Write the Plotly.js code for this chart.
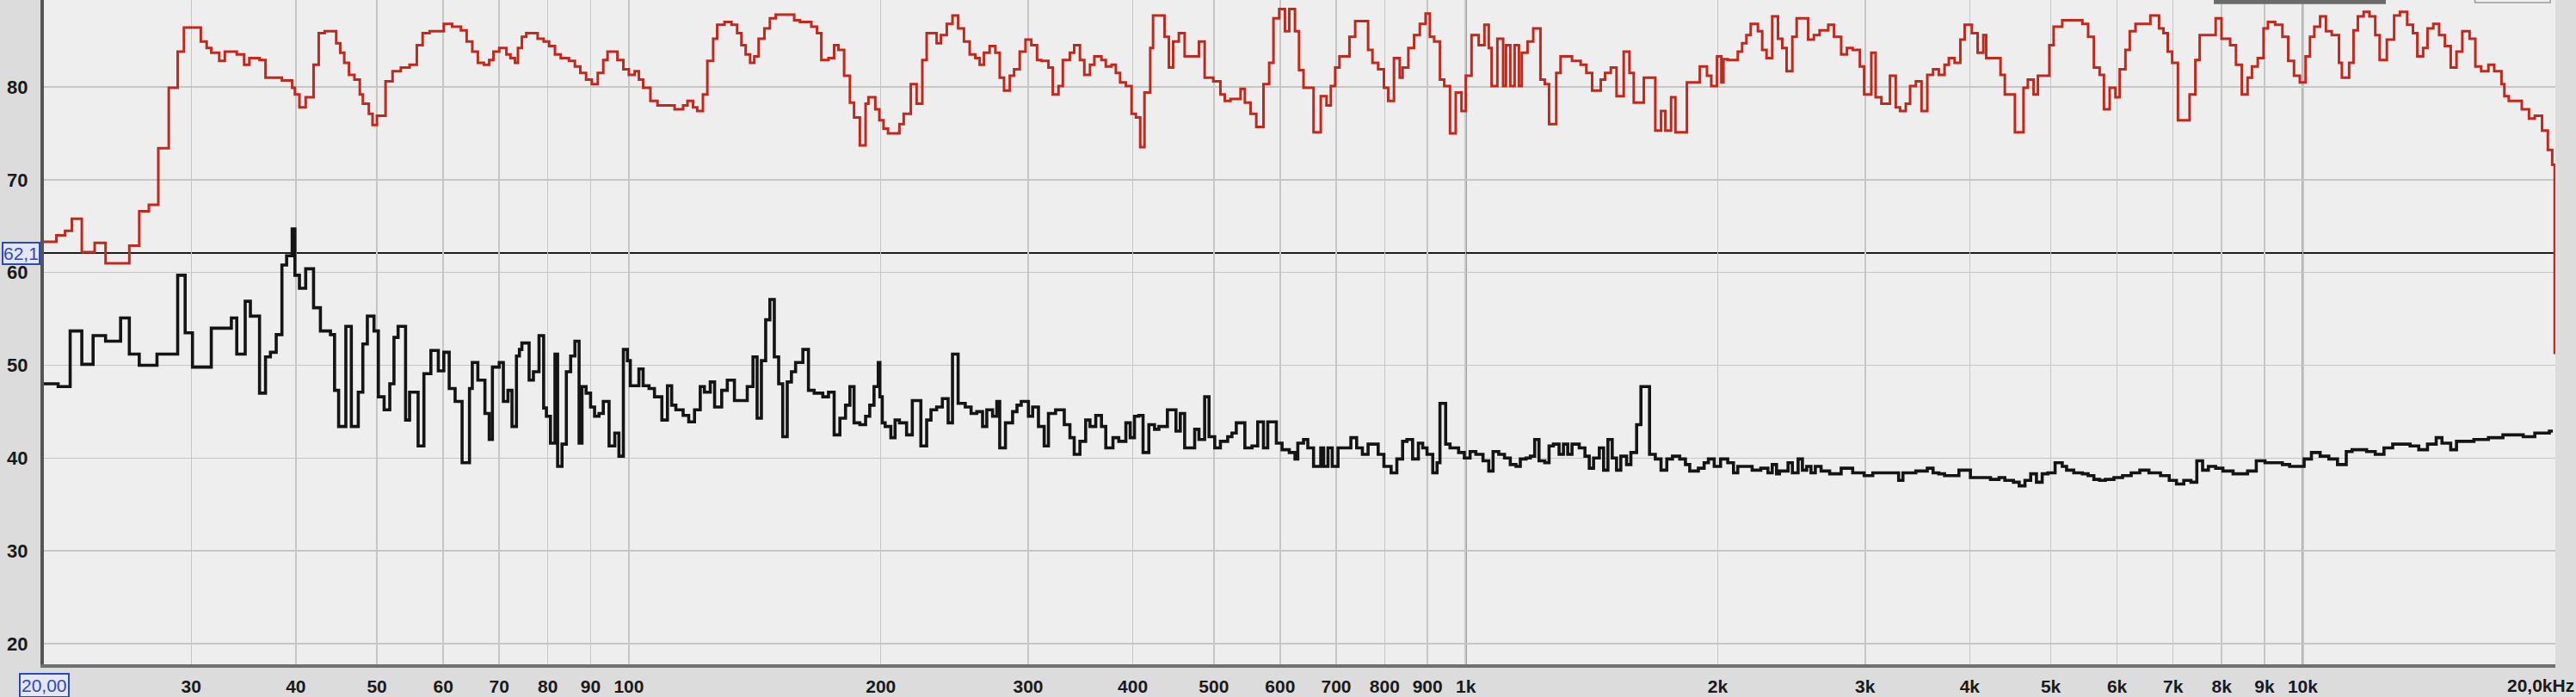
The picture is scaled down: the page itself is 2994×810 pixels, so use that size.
<!DOCTYPE html>
<html>
<head>
<meta charset="utf-8">
<script src="https://cdn.plot.ly/plotly-3.0.1.min.js"></script>
<style>html,body{margin:0;padding:0;background:#dedede;}#chart{width:2994px;height:810px;}</style>
</head>
<body>
<div id="chart"></div>
<script>
// ---- data ----
const redHz = [20,20.7,21.2,21.6,22.2,23.0,23.7,25.3,26.0,26.7,27.4,28.2,28.9,29.4,30.8,31.3,31.7,32.4,32.9,34.0,34.7,35.2,36.2,36.8,38.5,39.6,39.9,40.4,41.1,42.0,42.6,43.3,44.7,45.2,45.7,46.3,47.0,47.7,48.1,48.9,49.4,50.0,51.2,52.2,53.4,54.7,55.8,56.7,57.8,60.1,61.5,
63.0,64.0,65.0,66.0,67.1,68.1,68.9,70.0,71.4,72.2,73.1,73.7,74.5,75.4,77.8,79.1,80.3,81.6,82.9,84.8,86.2,87.5,88.9,90.3,91.8,93.2,94.3,96.9,98.5,100.0,101.6,102.8,104.0,106.1,108.2,113.4,116.1,117.5,119.3,120.7,122.6,124.1,126.1,127.5,130.1,132.6,134.7,136.3,137.9,139.6,141.2,142.9,145.2,147.4,149.8,157.6,160.1,165.2,167.8,169.8,173.2,175.9,178.0,180.8,183.7,185.8,188.8,191.8,193.3,
197.0,199.2,201.5,204.0,210.5,213.0,217.2,220.7,224.2,226.9,233.2,236.0,239.8,243.6,247.4,251.4,255.4,259.4,262.5,265.6,269.8,274.1,277.4,280.7,285.2,288.6,293.1,297.8,302.6,307.4,311.0,317.2,321.0,326.1,330.0,336.5,340.5,345.9,350.1,355.6,359.9,367.0,371.4,377.3,381.8,386.3,392.5,398.7,403.5,408.3,413.1,419.7,423.0,436.6,441.8,447.0,454.1,461.4,479.9,487.5,499.2,509.1,515.2,523.4,538.1,544.5,553.1,561.9,573.1,582.2,589.1,598.5,608.0,615.3,625.0,
632.0,639.9,657.8,671.0,681.7,689.8,698.1,706.4,726.1,737.6,764.3,773.5,785.8,798.3,807.8,820.7,833.8,840.4,853.8,867.4,881.2,895.3,905.9,916.7,931.4,942.4,957.5,972.7,988.2,1000,1015.9,1036.1,1052.6,1065.2,1073.6,1090.7,1108.1,1116.9,1130.2,1143.7,1157.3,1166.5,1185.1,1203.9,1228.0,1242.6,1257.4,1282.5,1297.8,1339.4,1371.6,1393.4,1415.6,1449.5,1466.8,1490.2,1513.9,1544.1,1568.7,1587.4,1631.9,1684.3,1711.1,1731.5,1759.1,1780.1,1837.2,1903.7,1941.7,1964.8,1996.1,
2020,2031.7,2055.8,2113.4,2138.6,2164.1,2189.9,2233.8,2260.4,2287.4,2323.5,2360.4,2388.5,2417.1,2455.6,2485.0,2564.7,2605.6,2647.1,2710.7,2753.8,2808.7,2853.4,2899.0,2956.8,2992.1,3051.6,3088.1,3137.3,3212.5,3263.7,3302.6,3355.1,3395.2,3449.2,3503.7,3559.7,3616.6,3674.0,3732.7,3777.1,3837.3,3898.4,3945.0,4023.8,4087.8,4152.9,4185.9,4354.1,4406.1,4529.9,4638.4,4693.7,4768.5,4825.5,4980.2,5039.4,5160.2,5453.8,5540.9,5629.2,5718.9,5787.1,5879.2,5973.0,6043.7,6139.9,6213.3,6312.3,
6576,6735,6817,6898,6982,7094,7325,7442,7531,7870,7997,8190,8322,8456,8592,8696,8836,8978,9087,9269,9456,9609,9763,9920,10080,10201,10324,10490,10659,10831,11049,11137,11362,11499,11637,11825,12015,12208,12356,12604,12859,13066,13329,13543,13706,13927,14095,14322,14552,14787,15025,15266,15512,15824,16079,16338,16667,16935,17277,17415,17625,18269,18636,18936,19318,19628,19865,20000];
const redDb = [63.3,64.0,64.5,65.8,62.2,63.2,61.0,62.9,66.6,67.3,73.4,79.9,83.8,86.4,84.9,84.2,83.7,82.8,83.8,83.5,82.4,83.1,82.9,81.0,80.7,79.9,79.2,77.8,78.9,82.4,85.8,86.0,84.7,83.7,82.6,81.3,80.8,79.2,78.2,77.1,75.9,76.9,80.6,81.7,82.1,82.4,84.5,85.8,86.0,86.8,86.5,
86.1,84.9,83.8,82.6,82.4,82.9,83.8,84.2,83.5,83.1,82.6,84.2,85.4,85.8,85.2,84.9,84.4,83.5,83.1,82.8,82.2,81.5,80.8,80.3,81.5,82.9,83.8,82.9,81.9,81.3,81.7,80.8,79.9,78.5,78.0,77.6,78.0,78.5,77.8,77.4,79.2,82.8,85.2,86.7,87.0,86.7,85.8,84.5,83.5,82.6,83.3,85.2,86.3,87.4,87.8,87.2,87.0,86.5,85.8,82.9,83.1,84.5,84.0,81.2,78.3,76.7,73.7,78.2,78.9,
77.6,76.4,75.5,75.0,76.0,77.1,80.3,78.2,82.9,85.8,84.7,85.6,86.8,87.7,86.3,84.9,83.5,83.1,82.4,83.7,84.4,83.7,81.0,79.6,81.2,81.9,83.8,85.1,84.5,82.9,82.8,82.1,79.2,80.1,82.9,83.7,84.5,82.9,81.3,82.4,83.3,82.9,82.2,82.4,81.5,80.5,80.1,77.1,76.7,73.5,79.4,84.2,87.7,85.4,82.1,84.9,85.8,83.3,84.9,81.0,80.6,79.2,78.5,78.7,79.8,78.3,77.1,75.7,80.3,82.6,87.4,88.4,86.0,88.4,86.0,
81.8,79.9,75.1,79.0,78.0,80.1,82.1,83.3,85.4,87.1,84.0,82.6,81.9,79.9,78.5,83.1,81.0,82.1,84.2,85.6,86.8,87.9,85.4,84.9,80.8,80.1,75.0,79.4,77.4,81.2,85.6,84.5,86.7,84.2,80.1,85.2,80.1,84.5,80.1,84.5,80.1,83.7,84.9,86.3,80.8,80.3,76.0,81.5,83.3,82.8,82.4,81.5,79.6,80.8,81.5,82.1,79.0,83.8,81.5,78.3,81.0,75.3,77.4,75.3,78.9,75.1,80.5,82.2,81.2,80.1,83.3,
80.5,83.0,82.9,83.8,84.7,85.6,86.8,86.0,84.0,83.1,87.6,85.2,84.2,81.7,85.4,87.4,85.1,85.6,86.1,86.7,85.4,83.5,84.2,84.0,82.2,79.2,83.7,78.9,78.2,81.2,77.8,77.4,78.2,80.1,80.6,77.4,81.3,81.9,81.3,82.4,83.1,82.6,85.1,86.7,85.8,83.7,85.6,83.1,81.3,79.2,75.1,79.9,80.8,79.2,81.2,84.5,86.5,87.2,86.8,85.4,82.1,81.3,77.6,79.9,78.9,81.9,84.0,86.0,86.8,
87.7,86.3,85.8,83.8,82.6,76.4,79.2,82.9,85.6,87.4,85.2,84.5,82.4,79.2,81.0,82.2,83.1,86.3,87.0,86.7,85.4,82.8,81.2,80.5,83.3,85.4,86.5,87.6,86.0,85.6,82.6,81.0,82.6,86.1,87.6,88.1,87.6,85.6,82.9,85.1,87.7,88.1,86.7,85.8,83.3,84.2,86.3,86.8,85.6,84.4,82.1,83.8,86.0,85.2,82.2,81.7,82.4,81.7,80.3,79.0,78.5,77.6,76.6,76.9,75.3,73.2,71.6,51.2];

const blackHz = [20.0,20.8,21.5,22.2,22.9,23.7,24.7,25.3,26.0,27.3,28.9,29.5,30.1,31.7,33.5,34.0,34.8,35.3,36.2,36.8,37.3,37.9,38.5,39.0,39.6,39.9,40.4,41.1,42.0,42.8,44.0,44.5,45.0,45.9,46.6,47.5,48.1,48.7,49.6,50.2,51.0,51.8,52.4,53.0,54.1,54.7,56.0,56.9,58.0,59.2,60.1,61.0,62.0,
63.2,64.5,65.0,66.0,67.3,68.1,68.7,70.0,70.8,71.7,72.5,73.4,74.0,74.5,76.0,76.9,78.1,79.1,79.7,80.6,81.6,82.2,83.2,84.2,85.2,86.2,87.2,87.9,88.9,90.0,91.0,92.1,93.2,94.7,96.2,97.3,98.5,99.6,100.4,102.8,104.0,105.7,107.3,109.5,111.2,112.5,113.8,116.1,117.9,119.8,121.7,123.1,125.1,126.6,129.1,131.1,133.7,138.5,140.7,142.3,144.0,145.7,147.4,149.2,151.0,152.7,154.6,156.4,158.2,161.4,163.9,166.5,170.5,173.2,175.9,178.7,181.5,183.7,185.8,188.8,191.8,194.0,196.3,198.6,
199.5,200.8,202.4,205.6,208.0,210.5,214.7,218.1,223.3,226.9,229.6,233.2,236.9,240.7,243.6,247.4,252.3,256.4,260.4,264.6,267.7,272.0,275.2,277.4,281.8,287.4,290.9,294.3,300.2,303.7,308.6,313.5,317.2,323.5,331.3,336.5,340.5,345.9,351.4,355.6,361.3,367.0,371.4,378.8,384.9,392.5,397.2,401.9,406.7,411.5,418.1,424.7,429.8,440.0,450.5,455.9,461.4,474.3,479.9,487.5,493.4,501.2,509.1,519.4,525.5,531.8,544.5,555.3,564.1,573.1,579.9,593.8,603.2,615.3,625.0,
629.9,639.9,647.5,657.8,671.0,676.3,684.4,692.5,703.6,728.9,740.6,752.4,764.3,785.8,798.3,814.3,827.2,840.4,850.4,863.9,877.7,888.2,898.8,913.1,924.0,931.4,946.1,957.5,980.4,996.0,1011.9,1028.0,1048.5,1065.2,1077.9,1094.9,1112.4,1130.2,1148.1,1161.8,1180.4,1194.4,1208.7,1223.1,1242.6,1257.4,1272.4,1292.6,1308.1,1323.7,1339.4,1366.2,1387.9,1404.5,1421.2,1443.9,1461.0,1478.5,1496.1,1513.9,1531.8,1556.3,1574.8,1599.9,1619.0,1657.8,1684.3,1711.1,1738.4,1766.0,1801.2,1829.9,1851.7,1896.2,1926.5,1949.3,1980.6,
2015.6,2055.8,2088.6,2113.4,2198.5,2251.5,2296.3,2323.5,2351.2,2369.9,2426.8,2455.6,2494.9,2524.6,2554.6,2585.0,2615.9,2657.6,2721.3,2808.7,2899.0,2992.1,3063.9,3289.7,3328.9,3449.2,3559.7,3616.6,3674.0,3732.7,3883.1,4007.9,4235.8,4336.8,4406.1,4512.0,4583.8,4657.0,4731.1,4806.4,4883.0,4960.6,5059.6,5160.2,5221.9,5326.2,5453.8,5540.9,5629.2,5718.9,5809.6,5948.8,6091.7,6237.9,6387.5,
6550,6762,6926,7065,7209,7353,7472,7592,7714,7870,8028,8256,8592,8800,9014,9456,9646,10039,10242,10490,10744,11004,11272,11454,11921,12208,12505,12808,13435,13761,14095,14436,14668,15025,15266,16015,16667,17345,18341,18936,19708,19900];
const blackDb = [48.0,47.7,53.7,50.1,53.2,52.6,55.1,51.2,50.0,51.2,59.7,53.5,49.8,54.0,55.1,51.2,56.9,55.3,47.0,50.9,51.4,53.3,60.8,61.8,64.7,59.7,58.3,60.4,56.2,53.7,53.3,47.3,43.4,54.2,43.4,47.1,52.3,55.3,53.7,46.6,45.2,48.0,53.0,54.2,44.1,47.1,41.3,49.1,51.6,49.4,51.4,47.5,46.1,
39.5,47.5,50.3,48.4,44.8,42.0,49.8,50.3,46.1,47.3,43.4,51.0,51.7,52.4,48.4,49.3,53.2,45.4,44.5,41.6,51.2,39.1,41.5,49.3,51.0,52.6,41.6,47.7,47.0,45.5,44.5,44.8,46.1,41.3,42.7,40.2,51.7,50.5,47.8,49.6,47.8,47.5,46.6,44.1,47.8,45.7,45.2,44.6,43.9,45.2,47.7,47.1,48.2,45.5,47.3,48.4,46.2,47.7,50.9,44.3,50.5,54.9,57.1,50.9,48.0,42.3,48.2,49.3,50.3,51.7,47.3,47.0,46.6,47.1,42.5,44.3,45.7,47.7,43.8,43.6,44.5,45.7,47.7,50.3,
46.6,43.8,43.4,42.2,44.1,43.8,42.5,46.2,41.3,44.1,45.2,45.5,46.4,43.8,51.2,45.9,45.5,44.8,45.0,43.4,45.2,44.5,46.1,41.1,43.8,45.0,45.7,46.1,44.5,45.5,43.4,41.3,44.8,45.2,43.6,42.2,40.4,41.8,44.1,43.4,44.6,43.4,41.1,42.2,41.8,43.8,42.2,44.5,44.6,40.6,43.6,43.1,43.4,45.2,42.9,44.8,41.1,43.1,42.0,46.6,42.3,41.1,41.8,42.3,42.7,43.8,41.1,41.3,43.9,41.1,43.9,41.6,40.9,40.6,39.9,
41.6,42.0,41.1,39.1,41.1,39.1,41.1,39.1,41.1,42.2,41.1,40.4,41.5,40.4,39.1,38.4,39.9,41.8,42.0,39.9,41.6,41.1,40.4,38.4,39.5,45.9,41.5,41.1,40.6,40.0,40.7,40.4,39.7,38.6,40.7,40.4,40.0,39.3,39.1,39.9,40.0,40.2,42.0,39.7,39.5,41.3,41.5,40.4,41.5,40.4,41.5,41.1,40.2,38.9,40.0,41.1,38.7,42.0,40.0,38.7,40.2,39.3,40.6,43.6,47.7,40.4,39.9,38.7,39.9,40.2,39.9,39.3,38.6,38.9,39.5,39.9,39.1,
39.9,39.5,38.4,39.1,38.7,38.9,38.4,39.3,38.3,38.6,39.5,38.4,39.9,38.7,39.1,38.4,39.1,38.6,38.3,38.9,38.4,38.1,38.4,37.6,38.4,38.6,38.9,38.4,38.3,38.1,38.7,37.9,37.7,37.9,37.6,37.4,37.0,37.6,38.3,37.4,38.3,38.4,39.5,39.1,38.7,38.4,38.3,38.1,37.7,37.6,37.7,37.9,38.1,38.4,38.7,
38.4,38.1,37.6,37.2,37.6,37.4,39.7,38.7,39.1,38.9,38.6,38.3,38.6,39.7,39.5,39.3,39.1,39.9,40.6,40.2,39.9,39.3,40.7,40.9,40.7,40.4,41.1,41.5,41.3,40.9,41.5,42.2,41.6,40.9,41.8,42.0,42.2,42.5,42.3,42.7,42.9,42.9];

const markerDb = 62.1;
const xTickVals = [30,40,50,60,70,80,90,100,200,300,400,500,600,700,800,900,1000,2000,3000,4000,5000,6000,7000,8000,9000,10000];
const xTickText = ['30','40','50','60','70','80','90','100','200','300','400','500','600','700','800','900','1k','2k','3k','4k','5k','6k','7k','8k','9k','10k'];
const yTickVals = [20,30,40,50,60,70,80];
const yTickText = ['20','30','40','50','60','70','80'];
const decadeLines = [100, 1000, 10000];
const startLabel = '20,00';
const endLabel = '20,0kHz';
const markerLabel = '62,1';

// ---- chart ----
const tickFont = {family: 'Liberation Sans, Arial, sans-serif', size: 21, color: '#1a1a1a', weight: 'bold'};
const blue = '#2f46c4';

const traces = [
  {x: redHz, y: redDb, type: 'scatter', mode: 'lines', line: {shape: 'hv', color: '#c3281d', width: 3}, hoverinfo: 'skip'},
  {x: blackHz, y: blackDb, type: 'scatter', mode: 'lines', line: {shape: 'hv', color: '#141414', width: 3.6}, hoverinfo: 'skip'}
];

// shapes on a log axis take data values (Hz)
const darkGrid = decadeLines.map(v => ({
  type: 'line', xref: 'x', yref: 'paper', x0: v, x1: v, y0: 0, y1: 1,
  line: {color: v === 100 ? '#a0a0a0' : '#666666', width: 1.8}, layer: 'between'
}));

const layout = {
  width: 2994, height: 810,
  margin: {l: 51, r: 24, t: 0, b: 38, pad: 0},
  paper_bgcolor: '#dcdcdc',
  plot_bgcolor: '#eeeeee',
  showlegend: false,
  xaxis: {
    type: 'log',
    range: [Math.log10(20), Math.log10(20000) + 0.0008],
    tickmode: 'array', tickvals: xTickVals, ticktext: xTickText,
    showgrid: true, gridcolor: '#c6c6c6', gridwidth: 1.5,
    showline: true, linecolor: '#707070', linewidth: 4,
    ticks: '', tickfont: tickFont, ticklabelstandoff: 4,
    zeroline: false, fixedrange: true
  },
  yaxis: {
    range: [17.77, 89.37],
    tickmode: 'array', tickvals: yTickVals, ticktext: yTickText,
    showgrid: true, gridcolor: '#c6c6c6', gridwidth: 1.5,
    showline: true, linecolor: '#555555', linewidth: 4,
    ticks: '', tickfont: Object.assign({}, tickFont, {size: 22}), ticklabelstandoff: 10,
    zeroline: false, fixedrange: true
  },
  shapes: darkGrid.concat([
    {type: 'line', xref: 'paper', yref: 'y', x0: 0, x1: 1, y0: markerDb, y1: markerDb, line: {color: '#1c1c1c', width: 2}, layer: 'between'},
    {type: 'rect', xref: 'paper', yref: 'paper', x0: 0.864, x1: 0.9325, y0: 0.994, y1: 1.01, fillcolor: '#6a6a6a', line: {width: 0}},
    {type: 'rect', xref: 'paper', yref: 'paper', x0: 0.968, x1: 0.998, y0: 0.996, y1: 1.01, fillcolor: 'rgba(0,0,0,0)', line: {color: '#9a9a9a', width: 1.5}}
  ]),
  annotations: [
    {xref: 'paper', yref: 'y', x: -0.0012, y: markerDb, xanchor: 'right', yanchor: 'middle', text: markerLabel, showarrow: false,
     font: {family: 'Liberation Sans, Arial, sans-serif', size: 21, color: blue}, bgcolor: '#e4e7f6', bordercolor: blue, borderwidth: 2, borderpad: 0},
    {xref: 'paper', yref: 'paper', x: 0, y: -0.032, xanchor: 'center', yanchor: 'middle', text: startLabel, showarrow: false,
     font: {family: 'Liberation Sans, Arial, sans-serif', size: 21, color: blue}, bgcolor: '#e4e7f6', bordercolor: blue, borderwidth: 2, borderpad: 1},
    {xref: 'paper', yref: 'paper', x: 1.0082, y: -0.032, xanchor: 'right', yanchor: 'middle', text: endLabel, showarrow: false,
     font: tickFont}
  ]
};

Plotly.newPlot('chart', traces, layout, {staticPlot: true, displayModeBar: false});
</script>
</body>
</html>
